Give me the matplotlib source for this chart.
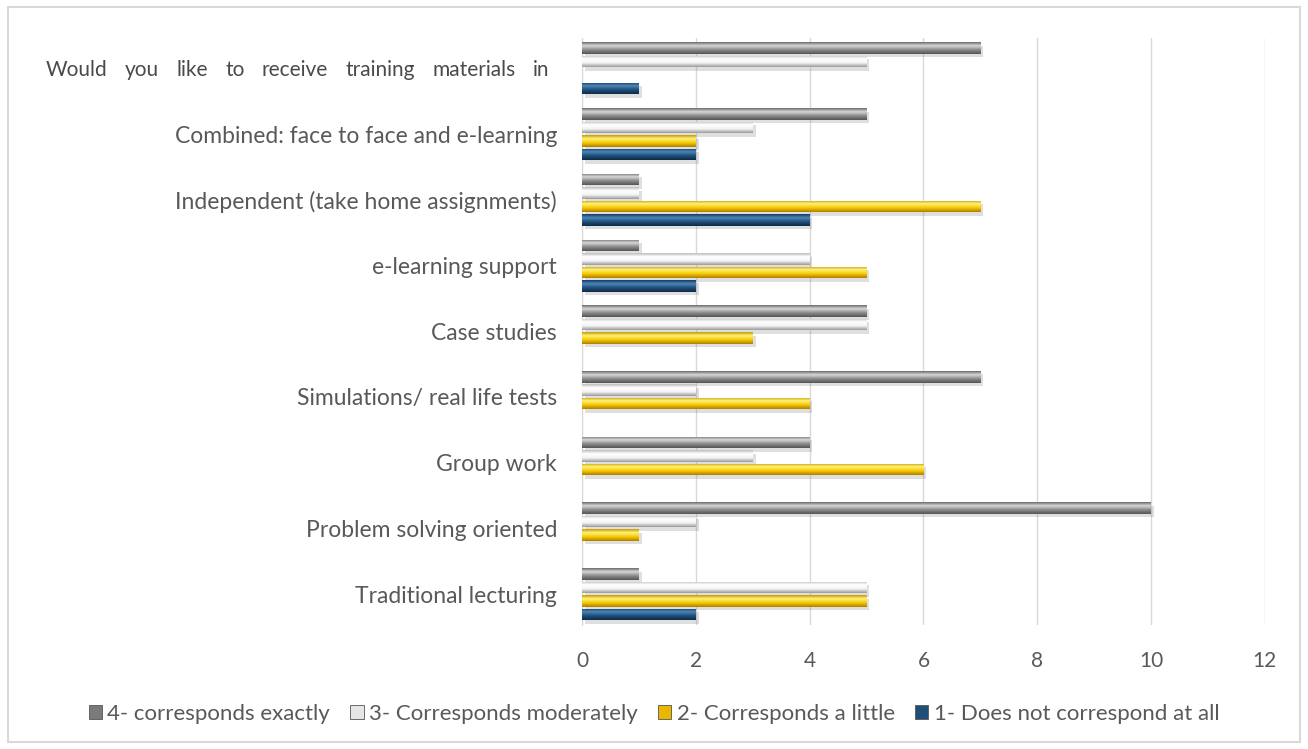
import numpy as np
import matplotlib
matplotlib.use("Agg")
import matplotlib.pyplot as plt
import matplotlib.patheffects as pe
from matplotlib.colors import LinearSegmentedColormap
from matplotlib.patches import Rectangle, Patch

plt.rcParams['font.family'] = ['Lato', 'DejaVu Sans']

# --- data (bottom category first) ---
categories = [
    "Traditional lecturing",
    "Problem solving oriented",
    "Group work",
    "Simulations/ real life tests",
    "Case studies",
    "e-learning support",
    "Independent (take home assignments)",
    "Combined: face to face and e-learning",
    "Would you like to receive training materials in",
]
exact      = [1, 10, 4, 7, 5, 1, 1, 5, 7]   # 4- corresponds exactly
moderately = [5, 2, 3, 2, 5, 4, 1, 3, 5]    # 3- Corresponds moderately
little     = [5, 1, 6, 4, 3, 5, 7, 2, 0]    # 2- Corresponds a little
not_at_all = [2, 0, 0, 0, 0, 2, 4, 2, 1]    # 1- Does not correspond at all

series_labels = ["4- corresponds exactly", "3- Corresponds moderately",
                 "2- Corresponds a little", "1- Does not correspond at all"]
series_values = [exact, moderately, little, not_at_all]

# gradient stops per series: top edge, highlight, body, bottom edge
gradients = [
    ["#6a6a6a", "#d8d8d8", "#8a8a8a", "#555555"],
    ["#bdbdbd", "#ffffff", "#f4f4f4", "#9a9a9a"],
    ["#c79a00", "#fff27a", "#f5c800", "#b07d00"],
    ["#143a5c", "#4b86b8", "#1f4e79", "#0f2a44"],
]
legend_colors = ["#7a7a7a", "#e6e6e6", "#e8b800", "#1f4e79"]

fig = plt.figure(figsize=(13.08, 7.49), dpi=100)
ax = fig.add_axes([0.445, 0.1656, 0.522, 0.7834])

y = np.arange(len(categories))
slot = 0.205
height = 0.175
offsets = [1.5 * slot, 0.5 * slot, -0.5 * slot, -1.5 * slot]

for vals, off, stops in zip(series_values, offsets, gradients):
    cmap = LinearSegmentedColormap.from_list(
        "bev", list(zip([0.0, 0.3, 0.65, 1.0], stops)))
    bars = ax.barh(y + off, vals, height=height, color=stops[2], linewidth=0,
                   zorder=3)
    for b in bars:
        if b.get_width() <= 0:
            b.set_visible(False)
            continue
        b.set_path_effects([pe.SimplePatchShadow(offset=(2, -2.5), alpha=0.25,
                                                 shadow_rgbFace="#808080"),
                            pe.Normal()])
        x0, y0 = b.get_x(), b.get_y()
        w, h = b.get_width(), b.get_height()
        grad = np.linspace(0, 1, 64).reshape(-1, 1)
        im = ax.imshow(grad, cmap=cmap, aspect='auto', origin='upper',
                       extent=(x0, x0 + w, y0, y0 + h), zorder=4,
                       interpolation='bilinear')
        im.set_clip_path(b)

ax.set_xlim(0, 12)
ax.set_ylim(-0.47, 8.46)
ax.set_xticks(range(0, 13, 2))
ax.set_yticks(y)
ax.set_yticklabels(categories[:-1] + [""])
ax.grid(axis='x', color="#d9d9d9", linewidth=1, zorder=0)
ax.set_axisbelow(True)
for s in ["top", "right", "bottom"]:
    ax.spines[s].set_visible(False)
ax.spines["left"].set_color("#d9d9d9")
ax.tick_params(axis='both', length=0, colors="#595959")
ax.tick_params(axis='x', labelsize=15, pad=19)
ax.tick_params(axis='y', labelsize=16.5, pad=18)

# justified question text for the top category
words = categories[-1].split()
fig.canvas.draw()
renderer = fig.canvas.get_renderer()
left_px, right_px, ypx = 46, 549, 749 - 70
texts = [fig.text(0, ypx / 749, w, fontsize=15, color="#4a4a4a",
                  va='center') for w in words]
widths = [t.get_window_extent(renderer).width for t in texts]
gap = (right_px - left_px - sum(widths)) / (len(words) - 1)
xpos = left_px
for t, wd in zip(texts, widths):
    t.set_x(xpos / 1308)
    xpos += wd + gap

handles = [Patch(facecolor=c, edgecolor="#555555", linewidth=0.6)
           for c in legend_colors]
fig.legend(handles, series_labels, loc='center', bbox_to_anchor=(0.5, 0.047),
           ncol=4, frameon=False, fontsize=16, labelcolor="#595959",
           handlelength=0.6, handleheight=0.6, handletextpad=0.25,
           columnspacing=0.9)

fig.patches.append(Rectangle((8 / 1308, 7 / 749), 1292 / 1308, 735 / 749,
                             transform=fig.transFigure, fill=False,
                             edgecolor="#d9d9d9", linewidth=1.5))

fig.savefig("out.png", dpi=100)
